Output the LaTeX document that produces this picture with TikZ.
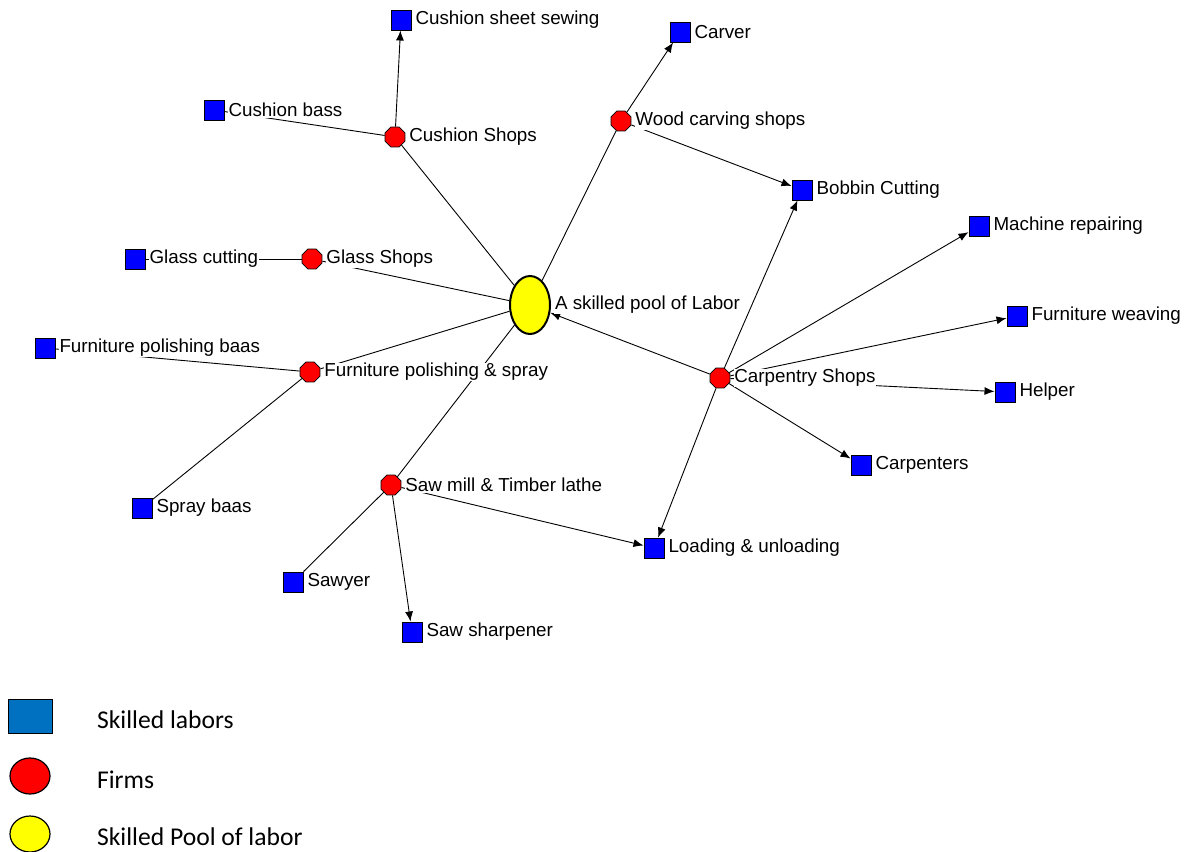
\documentclass[tikz,border=0pt]{standalone}
\usepackage{fontspec}
\setmainfont{Liberation Sans}
\newfontfamily\legendfont{Carlito}
\usetikzlibrary{positioning,shapes.geometric,arrows.meta}
\definecolor{skill_blue}{HTML}{0000FF}
\definecolor{firm_red}{HTML}{FF0000}
\definecolor{pool_yellow}{HTML}{FFFF00}
\definecolor{legend_blue}{HTML}{0070C0}
\tikzset{
  skill/.style={rectangle, draw=black, fill=skill_blue, minimum size=10pt,
                inner sep=0pt, line width=0.5pt},
  firm/.style={regular polygon, regular polygon sides=8, draw=black, fill=firm_red,
               minimum size=10.8pt, inner sep=0pt, line width=0.4pt},
  pool/.style={ellipse, draw=black, fill=pool_yellow, minimum width=20pt,
               minimum height=29pt, inner sep=0pt, line width=1pt},
  link/.style={draw=black, line width=0.45pt},
  arrow/.style={link, ->, >={Latex[length=5pt,width=4pt]}},
  lbl/.style={anchor=west, fill=white, inner sep=0.3pt, xshift=1.5pt, yshift=0pt,
              font=\fontsize{9.4}{11}\selectfont},
  keytext/.style={anchor=west, font=\legendfont\fontsize{12.8}{14}\selectfont},
}

\begin{document}
\begin{tikzpicture}[x=0.5pt, y=-0.5pt]
  \useasboundingbox (0,0) rectangle (1193,851);

  % --- pool of labor and firms ----------------------------------------------
  \node[pool] (pool) at (530,305) {};
  \node[firm] (cushion) at (395,137) {};
  \node[firm] (woodcarv) at (621,121) {};
  \node[firm] (glass) at (312,259) {};
  \node[firm] (polish) at (310,372) {};
  \node[firm] (sawmill) at (391,485) {};
  \node[firm] (carpentry) at (720,378) {};

  % --- skilled labors ---------------------------------------------------------
  \node[skill] (cushionsew) at (401,20) {};
  \node[skill] (cushionbass) at (214,110) {};
  \node[skill] (carver) at (680,32) {};
  \node[skill] (bobbin) at (802,190) {};
  \node[skill] (glasscut) at (135,259) {};
  \node[skill] (polishbaas) at (45,348) {};
  \node[skill] (spraybaas) at (142,508) {};
  \node[skill] (sawyer) at (293,582) {};
  \node[skill] (sharpener) at (412,632) {};
  \node[skill] (loading) at (654,548) {};
  \node[skill] (machine) at (979,226) {};
  \node[skill] (weaving) at (1017,316) {};
  \node[skill] (helper) at (1005,392) {};
  \node[skill] (carpenters) at (861,465) {};

  % --- links ------------------------------------------------------------------
  \foreach \a/\b in {pool/cushion, cushionbass/cushion, pool/woodcarv, glass/pool,
                     glasscut/glass, polish/pool, polishbaas/polish, spraybaas/polish,
                     sawmill/pool, sawyer/sawmill}
    \draw[link] (\a) -- (\b);
  \foreach \a/\b in {cushion/cushionsew, woodcarv/carver, woodcarv/bobbin,
                     sawmill/sharpener, sawmill/loading, carpentry/pool,
                     carpentry/bobbin, carpentry/loading, carpentry/machine,
                     carpentry/weaving, carpentry/helper, carpentry/carpenters}
    \draw[arrow] (\a) -- (\b);

  % --- labels -----------------------------------------------------------------
  \foreach \n/\t in {pool/A skilled pool of Labor, cushion/Cushion Shops,
                     woodcarv/Wood carving shops, glass/Glass Shops,
                     polish/Furniture polishing \& spray, sawmill/Saw mill \& Timber lathe,
                     carpentry/Carpentry Shops, cushionsew/Cushion sheet sewing,
                     cushionbass/Cushion bass, carver/Carver, bobbin/Bobbin Cutting,
                     glasscut/Glass cutting, polishbaas/Furniture polishing baas,
                     spraybaas/Spray baas, sawyer/Sawyer, sharpener/Saw sharpener,
                     loading/Loading \& unloading, machine/Machine repairing,
                     weaving/Furniture weaving, helper/Helper, carpenters/Carpenters}
    \node[lbl] (\n-lbl) at (\n.east) {\t};

  % --- legend -----------------------------------------------------------------
  \node[skill, fill=legend_blue, minimum width=22pt, minimum height=17pt] (key-skill) at (30,716) {};
  \node[ellipse, draw=black, fill=firm_red, minimum width=20pt, minimum height=18pt,
        inner sep=0pt, line width=0.6pt] (key-firm) at (30,776) {};
  \node[ellipse, draw=black, fill=pool_yellow, minimum width=20pt, minimum height=18pt,
        inner sep=0pt, line width=0.6pt] (key-pool) at (30,834) {};
  \node[keytext] (key-skill-text) at (90,720) {Skilled labors};
  \node[keytext] (key-firm-text) at (90,780) {Firms};
  \node[keytext] (key-pool-text) at (90,837) {Skilled Pool of labor};

\end{tikzpicture}
\end{document}
